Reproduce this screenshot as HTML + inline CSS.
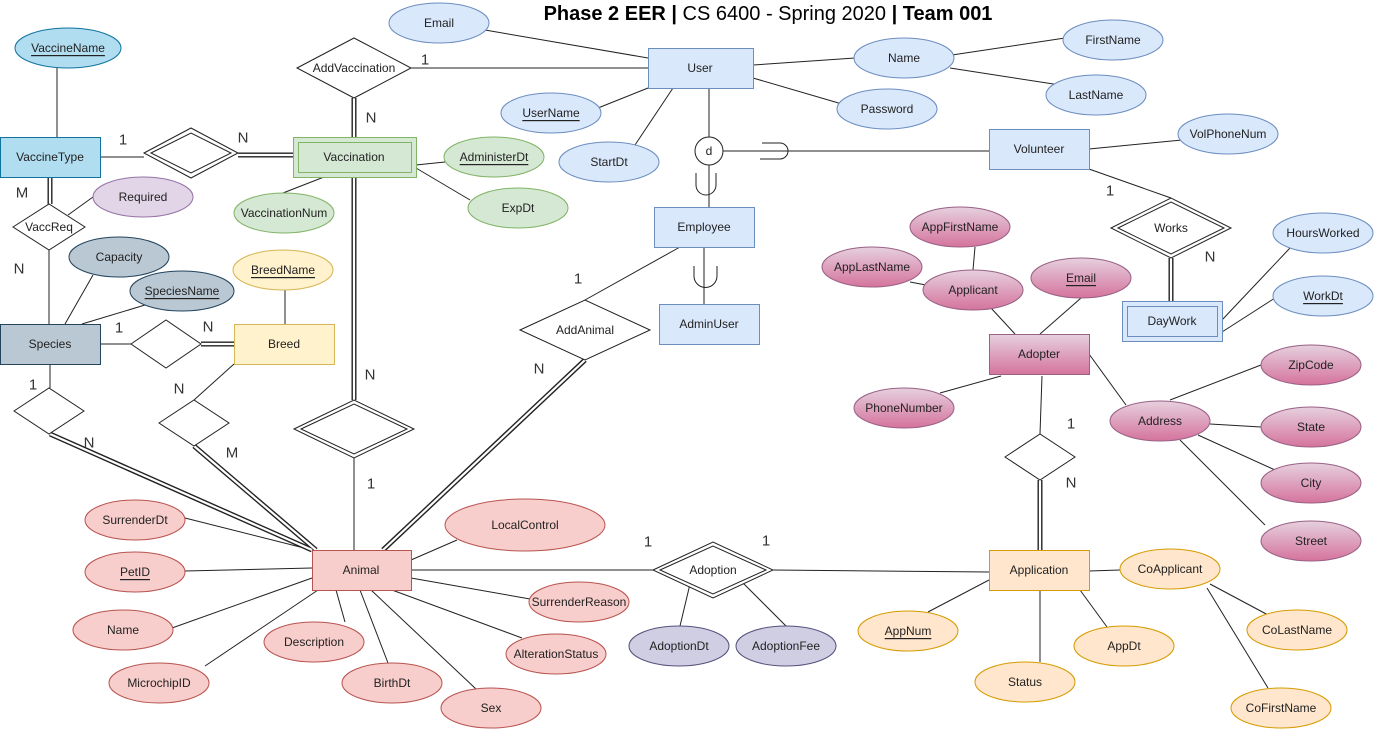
<!DOCTYPE html>
<html><head><meta charset="utf-8"><style>
body{margin:0;background:#fff}
svg{display:block}
text{font-family:"Liberation Sans",sans-serif;font-size:12px;fill:#222;text-anchor:middle;dominant-baseline:central}
.c{font-size:15px;fill:#333}
line,polyline,path{stroke:#222;stroke-width:1;fill:none}
.d1{stroke:#222;stroke-width:5}
.d2{stroke:#fff;stroke-width:2.2}
</style></head><body>
<svg width="1375" height="729" viewBox="0 0 1375 729" xmlns="http://www.w3.org/2000/svg">
<defs>
<linearGradient id="pg" x1="0" y1="0" x2="0" y2="1"><stop offset="0" stop-color="#e6d0de"/><stop offset="1" stop-color="#d5739d"/></linearGradient>
</defs>
<!-- single lines -->
<g>
<line x1="411" y1="68" x2="648" y2="68"/>
<line x1="100" y1="157" x2="144" y2="157"/>
<line x1="57" y1="68" x2="57" y2="137"/>
<line x1="49" y1="250" x2="49" y2="324"/>
<line x1="93" y1="197" x2="68" y2="215"/>
<line x1="324" y1="177" x2="283" y2="193"/>
<line x1="416" y1="165" x2="445" y2="162"/>
<line x1="416" y1="168" x2="470" y2="200"/>
<line x1="93" y1="275" x2="65" y2="324"/>
<line x1="145" y1="305" x2="82" y2="324"/>
<line x1="285" y1="290" x2="285" y2="324"/>
<line x1="100" y1="344" x2="131" y2="344"/>
<line x1="50" y1="364" x2="50" y2="388"/>
<line x1="234" y1="364" x2="194" y2="400"/>
<line x1="354" y1="458" x2="354" y2="550"/>
<line x1="485" y1="30" x2="648" y2="58"/>
<line x1="648" y1="88" x2="598" y2="108"/>
<line x1="673" y1="88" x2="635" y2="145"/>
<line x1="753" y1="65" x2="855" y2="58"/>
<line x1="753" y1="78" x2="842" y2="104"/>
<line x1="952" y1="55" x2="1065" y2="38"/>
<line x1="950" y1="68" x2="1060" y2="85"/>
<line x1="709" y1="88" x2="709" y2="137"/>
<line x1="723" y1="151" x2="989" y2="151"/>
<path d="M762 143 H780 A8 8 0 0 1 780 159 H760"/>
<line x1="709" y1="165" x2="709" y2="207"/>
<path d="M696 173 V185 A10 10 0 0 0 716 185 V173"/>
<line x1="704" y1="247" x2="704" y2="304"/>
<path d="M694 266 V276 A10 10 0 0 0 717 276 V266"/>
<line x1="680" y1="247" x2="585" y2="300"/>
<line x1="1089" y1="149" x2="1182" y2="140"/>
<line x1="1089" y1="169" x2="1171" y2="198"/>
<line x1="1222" y1="320" x2="1290" y2="248"/>
<line x1="1222" y1="332" x2="1275" y2="298"/>
<line x1="975" y1="247" x2="973" y2="270"/>
<line x1="910" y1="282" x2="926" y2="285"/>
<line x1="991" y1="308" x2="1015" y2="334"/>
<line x1="1081" y1="298" x2="1040" y2="334"/>
<line x1="1001" y1="376" x2="940" y2="393"/>
<line x1="1089" y1="354" x2="1126" y2="405"/>
<line x1="1042" y1="376" x2="1040" y2="434"/>
<line x1="1170" y1="400" x2="1261" y2="365"/>
<line x1="1210" y1="424" x2="1261" y2="427"/>
<line x1="1198" y1="435" x2="1275" y2="470"/>
<line x1="1180" y1="440" x2="1265" y2="525"/>
<line x1="185" y1="518" x2="312" y2="550"/>
<line x1="185" y1="571" x2="312" y2="568"/>
<line x1="172" y1="628" x2="312" y2="578"/>
<line x1="205" y1="666" x2="318" y2="590"/>
<line x1="345" y1="622" x2="336" y2="590"/>
<line x1="388" y1="663" x2="360" y2="590"/>
<line x1="476" y1="689" x2="371" y2="590"/>
<line x1="522" y1="638" x2="392" y2="590"/>
<line x1="530" y1="599" x2="411" y2="578"/>
<line x1="457" y1="540" x2="411" y2="560"/>
<line x1="411" y1="570" x2="653" y2="570"/>
<line x1="773" y1="570" x2="989" y2="572"/>
<line x1="690" y1="584" x2="680" y2="626"/>
<line x1="742" y1="582" x2="786" y2="626"/>
<line x1="928" y1="612" x2="989" y2="580"/>
<line x1="1040" y1="590" x2="1040" y2="662"/>
<line x1="1107" y1="627" x2="1080" y2="590"/>
<line x1="1089" y1="571" x2="1120" y2="570"/>
<line x1="1210" y1="584" x2="1270" y2="616"/>
<line x1="1207" y1="588" x2="1268" y2="688"/>
</g>
<!-- double lines -->
<g id="dbl">
<line class="d1" x1="354" y1="98" x2="354" y2="137"/>
<line class="d1" x1="238" y1="155" x2="293" y2="155"/>
<line class="d1" x1="50" y1="177" x2="50" y2="204"/>
<line class="d1" x1="201" y1="344" x2="234" y2="344"/>
<line class="d1" x1="50" y1="434" x2="312" y2="550"/>
<line class="d1" x1="194" y1="446" x2="316" y2="550"/>
<line class="d1" x1="354" y1="177" x2="354" y2="400"/>
<line class="d1" x1="585" y1="360" x2="383" y2="550"/>
<line class="d1" x1="1171" y1="258" x2="1171" y2="301"/>
<line class="d1" x1="1040" y1="480" x2="1040" y2="550"/>
<line class="d2" x1="354" y1="98" x2="354" y2="137"/>
<line class="d2" x1="238" y1="155" x2="293" y2="155"/>
<line class="d2" x1="50" y1="177" x2="50" y2="204"/>
<line class="d2" x1="201" y1="344" x2="234" y2="344"/>
<line class="d2" x1="50" y1="434" x2="312" y2="550"/>
<line class="d2" x1="194" y1="446" x2="316" y2="550"/>
<line class="d2" x1="354" y1="177" x2="354" y2="400"/>
<line class="d2" x1="585" y1="360" x2="383" y2="550"/>
<line class="d2" x1="1171" y1="258" x2="1171" y2="301"/>
<line class="d2" x1="1040" y1="480" x2="1040" y2="550"/>
</g>
<!-- diamonds -->
<g fill="#fff" stroke="#222">
<polygon points="297,68 354,38 411,68 354,98"/>
<polygon points="144,153 191,128 238,153 191,178"/>
<polygon points="151,153 191,133 231,153 191,173"/>
<polygon points="13,227 49,204 85,227 49,250"/>
<polygon points="131,344 166,320 201,344 166,368"/>
<polygon points="14,411 49,388 84,411 49,434"/>
<polygon points="159,423 194,400 229,423 194,446"/>
<polygon points="294,429 354,400 414,429 354,458"/>
<polygon points="301,429 354,404 407,429 354,454"/>
<polygon points="520,330 585,300 650,330 585,360"/>
<polygon points="1111,228 1171,198 1231,228 1171,258"/>
<polygon points="1118,228 1171,202 1224,228 1171,254"/>
<polygon points="1005,457 1040,434 1075,457 1040,480"/>
<polygon points="653,570 713,542 773,570 713,598"/>
<polygon points="660,570 713,546 766,570 713,594"/>
<circle cx="709" cy="151" r="14"/>
</g>
<!-- entities -->
<g>
<rect x="648.5" y="48.5" width="105" height="40" fill="#dae8fc" stroke="#6c8ebf"/>
<rect x="0.5" y="137.5" width="100" height="40" fill="#b1ddf0" stroke="#10739e"/>
<rect x="293.5" y="137.5" width="123" height="40" fill="#d5e8d4" stroke="#82b366"/>
<rect x="298.5" y="142.5" width="113" height="30" fill="none" stroke="#82b366"/>
<rect x="0.5" y="324.5" width="100" height="40" fill="#bac8d3" stroke="#23445d"/>
<rect x="234.5" y="324.5" width="100" height="40" fill="#fff2cc" stroke="#d6b656"/>
<rect x="654.5" y="207.5" width="100" height="40" fill="#dae8fc" stroke="#6c8ebf"/>
<rect x="659.5" y="304.5" width="100" height="40" fill="#dae8fc" stroke="#6c8ebf"/>
<rect x="989.5" y="129.5" width="100" height="40" fill="#dae8fc" stroke="#6c8ebf"/>
<rect x="1122.5" y="301.5" width="100" height="40" fill="#dae8fc" stroke="#6c8ebf"/>
<rect x="1127.5" y="306.5" width="90" height="30" fill="none" stroke="#6c8ebf"/>
<rect x="989.5" y="334.5" width="100" height="40" fill="url(#pg)" stroke="#996185"/>
<rect x="312.5" y="550.5" width="99" height="40" fill="#f8cecc" stroke="#b85450"/>
<rect x="989.5" y="550.5" width="100" height="40" fill="#ffe6cc" stroke="#d79b00"/>
</g>
<!-- ellipses -->
<g stroke-width="1">
<g fill="#dae8fc" stroke="#6c8ebf">
<ellipse cx="439" cy="23" rx="50" ry="20"/>
<ellipse cx="551" cy="113" rx="50" ry="20"/>
<ellipse cx="609" cy="162" rx="50" ry="20"/>
<ellipse cx="904" cy="58" rx="50" ry="20"/>
<ellipse cx="1113" cy="40" rx="50" ry="20"/>
<ellipse cx="1096" cy="95" rx="50" ry="20"/>
<ellipse cx="887" cy="109" rx="50" ry="20"/>
<ellipse cx="1228" cy="134" rx="50" ry="20"/>
<ellipse cx="1323" cy="233" rx="50" ry="20"/>
<ellipse cx="1323" cy="296" rx="50" ry="20"/>
</g>
<ellipse cx="68" cy="48" rx="53" ry="20" fill="#b1ddf0" stroke="#10739e"/>
<g fill="#d5e8d4" stroke="#82b366">
<ellipse cx="494" cy="157" rx="50" ry="20"/>
<ellipse cx="518" cy="208" rx="50" ry="20"/>
<ellipse cx="284" cy="213" rx="50" ry="20"/>
</g>
<ellipse cx="143" cy="197" rx="50" ry="20" fill="#e1d5e7" stroke="#9673a6"/>
<g fill="#bac8d3" stroke="#23445d">
<ellipse cx="119" cy="257" rx="50" ry="20"/>
<ellipse cx="182" cy="291" rx="52" ry="20"/>
</g>
<ellipse cx="283" cy="270" rx="50" ry="20" fill="#fff2cc" stroke="#d6b656"/>
<g fill="url(#pg)" stroke="#996185">
<ellipse cx="960" cy="227" rx="50" ry="20"/>
<ellipse cx="872" cy="267" rx="50" ry="20"/>
<ellipse cx="973" cy="290" rx="50" ry="20"/>
<ellipse cx="1081" cy="278" rx="50" ry="20"/>
<ellipse cx="904" cy="408" rx="50" ry="20"/>
<ellipse cx="1160" cy="421" rx="50" ry="20"/>
<ellipse cx="1311" cy="365" rx="50" ry="20"/>
<ellipse cx="1311" cy="427" rx="50" ry="20"/>
<ellipse cx="1311" cy="483" rx="50" ry="20"/>
<ellipse cx="1311" cy="541" rx="50" ry="20"/>
</g>
<g fill="#f8cecc" stroke="#b85450">
<ellipse cx="135" cy="520" rx="50" ry="20"/>
<ellipse cx="135" cy="572" rx="50" ry="20"/>
<ellipse cx="123" cy="630" rx="50" ry="20"/>
<ellipse cx="159" cy="683" rx="50" ry="20"/>
<ellipse cx="314" cy="642" rx="50" ry="20"/>
<ellipse cx="392" cy="683" rx="50" ry="20"/>
<ellipse cx="491" cy="708" rx="50" ry="20"/>
<ellipse cx="525" cy="525" rx="80" ry="26"/>
<ellipse cx="579" cy="602" rx="50" ry="20"/>
<ellipse cx="556" cy="654" rx="50" ry="20"/>
</g>
<g fill="#d0cee2" stroke="#56517e">
<ellipse cx="679" cy="646" rx="50" ry="20"/>
<ellipse cx="786" cy="646" rx="50" ry="20"/>
</g>
<g fill="#ffe6cc" stroke="#d79b00">
<ellipse cx="908" cy="631" rx="50" ry="20"/>
<ellipse cx="1025" cy="682" rx="50" ry="20"/>
<ellipse cx="1124" cy="646" rx="50" ry="20"/>
<ellipse cx="1170" cy="569" rx="50" ry="20"/>
<ellipse cx="1297" cy="630" rx="50" ry="20"/>
<ellipse cx="1281" cy="708" rx="50" ry="20"/>
</g>
</g>
<!-- text -->
<text x="768" y="14" style="font-size:20px;fill:#000"><tspan font-weight="bold">Phase 2 EER |</tspan> CS 6400 - Spring 2020 <tspan font-weight="bold">| Team 001</tspan></text>
<text x="700" y="68">User</text>
<text x="50" y="157">VaccineType</text>
<text x="354" y="157">Vaccination</text>
<text x="50" y="344">Species</text>
<text x="284" y="344">Breed</text>
<text x="704" y="227">Employee</text>
<text x="709" y="324">AdminUser</text>
<text x="1039" y="149">Volunteer</text>
<text x="1172" y="321">DayWork</text>
<text x="1039" y="354">Adopter</text>
<text x="361" y="570">Animal</text>
<text x="1039" y="570">Application</text>
<text x="354" y="68">AddVaccination</text>
<text x="49" y="227">VaccReq</text>
<text x="585" y="330">AddAnimal</text>
<text x="1171" y="228">Works</text>
<text x="713" y="570">Adoption</text>
<text x="709" y="151">d</text>
<text x="439" y="23">Email</text>
<text x="551" y="113" text-decoration="underline">UserName</text>
<text x="609" y="162">StartDt</text>
<text x="904" y="58">Name</text>
<text x="1113" y="40">FirstName</text>
<text x="1096" y="95">LastName</text>
<text x="887" y="109">Password</text>
<text x="1228" y="134">VolPhoneNum</text>
<text x="1323" y="233">HoursWorked</text>
<text x="1323" y="296" text-decoration="underline">WorkDt</text>
<text x="68" y="48" text-decoration="underline">VaccineName</text>
<text x="494" y="157" text-decoration="underline">AdministerDt</text>
<text x="518" y="208">ExpDt</text>
<text x="284" y="213">VaccinationNum</text>
<text x="143" y="197">Required</text>
<text x="119" y="257">Capacity</text>
<text x="182" y="291" text-decoration="underline">SpeciesName</text>
<text x="283" y="270" text-decoration="underline">BreedName</text>
<text x="960" y="227">AppFirstName</text>
<text x="872" y="267">AppLastName</text>
<text x="973" y="290">Applicant</text>
<text x="1081" y="278" text-decoration="underline">Email</text>
<text x="904" y="408">PhoneNumber</text>
<text x="1160" y="421">Address</text>
<text x="1311" y="365">ZipCode</text>
<text x="1311" y="427">State</text>
<text x="1311" y="483">City</text>
<text x="1311" y="541">Street</text>
<text x="135" y="520">SurrenderDt</text>
<text x="135" y="572" text-decoration="underline">PetID</text>
<text x="123" y="630">Name</text>
<text x="159" y="683">MicrochipID</text>
<text x="314" y="642">Description</text>
<text x="392" y="683">BirthDt</text>
<text x="491" y="708">Sex</text>
<text x="525" y="525">LocalControl</text>
<text x="579" y="602">SurrenderReason</text>
<text x="556" y="654">AlterationStatus</text>
<text x="679" y="646">AdoptionDt</text>
<text x="786" y="646">AdoptionFee</text>
<text x="908" y="631" text-decoration="underline">AppNum</text>
<text x="1025" y="682">Status</text>
<text x="1124" y="646">AppDt</text>
<text x="1170" y="569">CoApplicant</text>
<text x="1297" y="630">CoLastName</text>
<text x="1281" y="708">CoFirstName</text>
<g class="cards">
<text class="c" x="425" y="60">1</text>
<text class="c" x="371" y="118">N</text>
<text class="c" x="123" y="140">1</text>
<text class="c" x="243" y="138">N</text>
<text class="c" x="22" y="193">M</text>
<text class="c" x="19" y="269">N</text>
<text class="c" x="119" y="328">1</text>
<text class="c" x="208" y="327">N</text>
<text class="c" x="33" y="385">1</text>
<text class="c" x="89" y="443">N</text>
<text class="c" x="179" y="389">N</text>
<text class="c" x="232" y="453">M</text>
<text class="c" x="370" y="375">N</text>
<text class="c" x="371" y="484">1</text>
<text class="c" x="578" y="279">1</text>
<text class="c" x="539" y="369">N</text>
<text class="c" x="1110" y="191">1</text>
<text class="c" x="1210" y="257">N</text>
<text class="c" x="1071" y="424">1</text>
<text class="c" x="1071" y="483">N</text>
<text class="c" x="648" y="542">1</text>
<text class="c" x="766" y="541">1</text>
</g>
</svg>
</body></html>
